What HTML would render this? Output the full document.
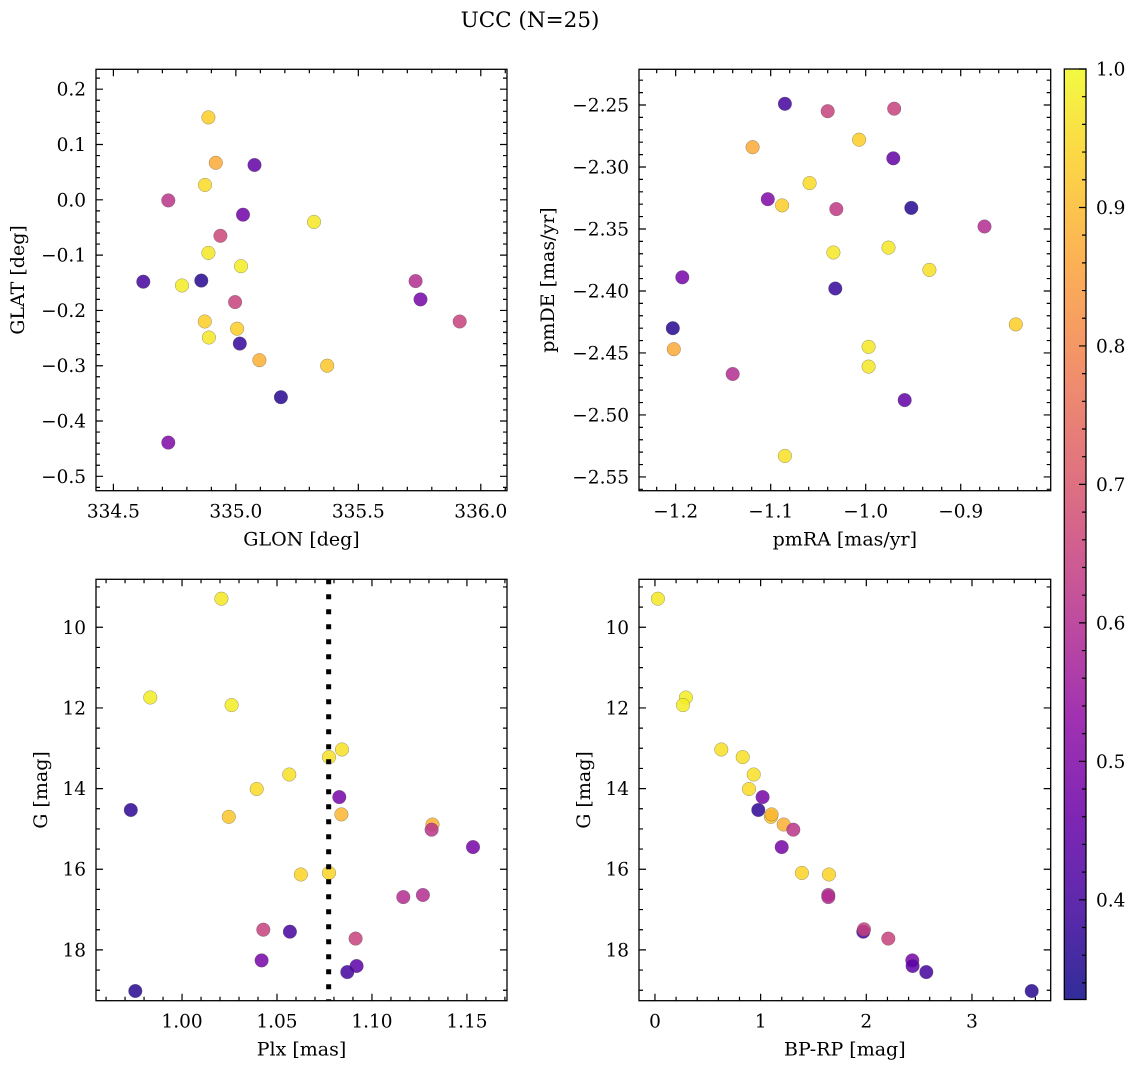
<!DOCTYPE html>
<html><head><meta charset="utf-8">
<style>
html,body{margin:0;padding:0;background:#fff;}
svg{display:block;font-family:"DejaVu Serif","Liberation Serif",serif;}
</style></head>
<body>
<svg id="fig" width="1136" height="1068" viewBox="0 0 1136 1068">
<text x="530" y="27" font-size="21.5" text-anchor="middle">UCC (N=25)</text>
</svg>
<script>
// ---- Panel 1: GLON vs GLAT ----
const glon1 = [334.888,334.918,335.076,334.874,334.724,335.029,335.319,334.937,334.888,335.021,334.622,334.780,334.859,334.997,335.734,335.754,335.914,334.873,335.005,334.890,335.016,335.096,335.373,335.184,334.724];
const glat1 = [0.149,0.067,0.063,0.027,-0.001,-0.027,-0.040,-0.065,-0.096,-0.120,-0.148,-0.155,-0.146,-0.185,-0.147,-0.180,-0.220,-0.220,-0.233,-0.249,-0.260,-0.290,-0.300,-0.357,-0.439];
const prob1 = [0.93,0.87,0.45,0.95,0.62,0.47,0.97,0.66,0.97,0.98,0.40,0.98,0.36,0.65,0.60,0.48,0.65,0.93,0.93,0.97,0.38,0.88,0.92,0.36,0.50];
// ---- Panel 2: pmRA vs pmDE ----
const pmra2 = [-1.085,-1.040,-0.970,-1.007,-1.119,-0.971,-1.059,-1.103,-1.088,-1.031,-0.952,-0.875,-1.034,-0.976,-0.933,-1.193,-1.032,-0.842,-1.203,-1.202,-0.997,-0.997,-1.140,-0.959,-1.085];
const pmde2 = [-2.249,-2.255,-2.253,-2.278,-2.284,-2.293,-2.313,-2.326,-2.331,-2.334,-2.333,-2.348,-2.369,-2.365,-2.383,-2.389,-2.398,-2.427,-2.430,-2.447,-2.445,-2.461,-2.467,-2.488,-2.533];
const prob2 = [0.40,0.65,0.65,0.93,0.87,0.45,0.95,0.50,0.93,0.63,0.36,0.60,0.97,0.97,0.96,0.48,0.38,0.93,0.36,0.87,0.97,0.97,0.60,0.45,0.96];
// ---- Panel 3: Plx vs G ----
const plx3 = [1.0207,0.9833,1.0261,1.0842,1.0774,1.0565,1.0393,1.0828,0.9730,1.0246,1.0839,1.1319,1.1314,1.1532,1.0626,1.0774,1.1165,1.1268,1.0428,1.0568,1.0914,1.0419,1.0919,1.0870,0.9754];
const gmag3 = [9.29,11.74,11.93,13.03,13.22,13.65,14.01,14.21,14.53,14.70,14.64,14.89,15.02,15.45,16.13,16.09,16.69,16.64,17.50,17.55,17.72,18.26,18.40,18.55,19.02];
const prob3 = [0.97,0.98,0.98,0.96,0.96,0.96,0.95,0.48,0.37,0.92,0.89,0.88,0.62,0.48,0.94,0.94,0.60,0.60,0.65,0.40,0.65,0.48,0.44,0.40,0.36];
const plxLine = [1.0772];
// ---- Panel 4: BP-RP vs G ----
const bprp4 = [0.028,0.293,0.265,0.628,0.830,0.934,0.890,1.019,0.978,1.098,1.104,1.218,1.309,1.199,1.391,1.647,1.640,1.640,1.972,1.978,2.208,2.435,2.438,2.568,3.565];
const gmag4 = [9.29,11.74,11.93,13.03,13.22,13.65,14.01,14.21,14.53,14.70,14.64,14.89,15.02,15.45,16.09,16.13,16.64,16.69,17.55,17.49,17.72,18.26,18.40,18.55,19.02];
const prob4 = [0.97,0.98,0.98,0.96,0.96,0.96,0.95,0.48,0.37,0.92,0.89,0.88,0.62,0.48,0.94,0.94,0.60,0.60,0.40,0.65,0.65,0.48,0.44,0.40,0.36];
// ---- Colorbar ----
const cbTicks = [0.4,0.5,0.6,0.7,0.8,0.9,1.0];
const cbMin = 0.328, cbMax = 1.0;

const NS = "http://www.w3.org/2000/svg";
const svg = document.getElementById('fig');
function mk(tag, attrs, parent){
  const e = document.createElementNS(NS, tag);
  for (const k in attrs) e.setAttribute(k, attrs[k]);
  (parent||svg).appendChild(e);
  return e;
}
const plasma = [[13,8,135],[65,4,157],[106,0,168],[143,13,164],[177,42,144],[204,71,120],[225,100,98],[242,132,75],[252,166,54],[252,206,37],[240,249,33]];
function cmap(v){
  let t = (v-cbMin)/(cbMax-cbMin); t=Math.max(0,Math.min(1,t));
  const s = t*10, i = Math.min(9,Math.floor(s)), f = s-i;
  const a = plasma[i], b = plasma[i+1];
  return 'rgb('+a.map((c,k)=>Math.round(c+(b[k]-c)*f)).join(',')+')';
}
function fmt(v, d){ const s = Math.abs(v).toFixed(d); return (v<-1e-9?'\u2212':'')+s; }
const TF = 18.5, AF = 19;

function panel(p){
  const g = mk('g', {});
  
  
  const sx = v => p.x0 + (v-p.xd[0])/(p.xd[1]-p.xd[0])*(p.x1-p.x0);
  const sy = v => p.inv ? p.y0 + (v-p.yd[0])/(p.yd[1]-p.yd[0])*(p.y1-p.y0)
                         : p.y1 - (v-p.yd[0])/(p.yd[1]-p.yd[0])*(p.y1-p.y0);
  for (let i=0;i<p.xs.length;i++){
    const c = mk('circle', {cx:sx(p.xs[i]).toFixed(1), cy:sy(p.ys[i]).toFixed(1), r:6.8, fill:cmap(p.cs[i]), 'fill-opacity':0.85, stroke:'#555', 'stroke-opacity':0.6, 'stroke-width':0.5}, g);
    
    
  }
  if (p.vline){
    const l = mk('line', {x1:sx(p.vline[0]), x2:sx(p.vline[0]), y1:p.y0, y2:p.y1, stroke:'#000', 'stroke-width':5, 'stroke-dasharray':'5 10'}, g);
    
    
  }
  const tk = [];
  const eps = 1e-9;
  let start = Math.ceil((Math.min(...p.xd)-eps)/p.xmin)*p.xmin;
  for (let v=start; v<=Math.max(...p.xd)+eps; v+=p.xmin){
    const maj = Math.abs(Math.round(v/p.xmaj)*p.xmaj - v) < p.xmin*0.1;
    const X = sx(v), L = maj?7:4;
    tk.push(`M${X},${p.y1}v${-L}M${X},${p.y0}v${L}`);
    if (maj){
      const t = mk('text', {x:X, y:p.y1+27, 'font-size':TF, 'text-anchor':'middle'}, g);
      t.textContent = fmt(v, p.xdec);
      
      
    }
  }
  const ylo = Math.min(...p.yd), yhi = Math.max(...p.yd);
  start = Math.ceil((ylo-eps)/p.ymin)*p.ymin;
  for (let v=start; v<=yhi+eps; v+=p.ymin){
    const maj = Math.abs(Math.round(v/p.ymaj)*p.ymaj - v) < p.ymin*0.1;
    const Y = sy(v), L = maj?7:4;
    tk.push(`M${p.x0},${Y}h${L}M${p.x1},${Y}h${-L}`);
    if (maj){
      const t = mk('text', {x:p.x0-10, y:Y+6.5, 'font-size':TF, 'text-anchor':'end'}, g);
      t.textContent = fmt(v, p.ydec);
      
      
    }
  }
  mk('path', {d:tk.join(''), stroke:'#000', 'stroke-width':1.2, fill:'none'}, g);
  const fr = mk('rect', {x:p.x0, y:p.y0, width:p.x1-p.x0, height:p.y1-p.y0, fill:'none', stroke:'#000', 'stroke-width':1.3}, g);
  
  
  const xl = mk('text', {x:(p.x0+p.x1)/2, y:p.y1+55, 'font-size':AF, 'text-anchor':'middle'}, g);
  xl.textContent = p.xlab;
  
  
  const cy = (p.y0+p.y1)/2;
  const yl = mk('text', {x:p.ylx, y:cy, 'font-size':AF, 'text-anchor':'middle', transform:`rotate(-90 ${p.ylx} ${cy})`}, g);
  yl.textContent = p.ylab;
  
  
}

panel({name:'glon-glat-panel', x0:96, x1:507, y0:69.3, y1:490.7, xd:[334.429,336.107], yd:[-0.526,0.236],
  xs:glon1, ys:glat1, cs:prob1, xmaj:0.5, xmin:0.1, xdec:1, ymaj:0.1, ymin:0.02, ydec:1, xlab:'GLON [deg]', ylab:'GLAT [deg]', ylx:24});
panel({name:'pm-panel', x0:639, x1:1050.7, y0:69.3, y1:490.7, xd:[-1.2386,-0.8053], yd:[-2.5611,-2.2212],
  xs:pmra2, ys:pmde2, cs:prob2, xmaj:0.1, xmin:0.02, xdec:1, ymaj:0.05, ymin:0.01, ydec:2, xlab:'pmRA [mas/yr]', ylab:'pmDE [mas/yr]', ylx:554});
panel({name:'plx-g-panel', x0:96, x1:507, y0:579.3, y1:1000.7, xd:[0.9547,1.1711], yd:[8.81,19.26], inv:true,
  xs:plx3, ys:gmag3, cs:prob3, vline:plxLine, xmaj:0.05, xmin:0.01, xdec:2, ymaj:2, ymin:0.5, ydec:0, xlab:'Plx [mas]', ylab:'G [mag]', ylx:47});
panel({name:'cmd-panel', x0:639, x1:1050.7, y0:579.3, y1:1000.7, xd:[-0.151,3.745], yd:[8.81,19.26], inv:true,
  xs:bprp4, ys:gmag4, cs:prob4, xmaj:1, xmin:0.2, xdec:0, ymaj:2, ymin:0.5, ydec:0, xlab:'BP-RP [mag]', ylab:'G [mag]', ylx:590});

(function(){
  const x0=1064.3, x1=1086, y0=69, y1=999.5;
  const g = mk('g', {});
  
  
  const defs = mk('defs', {}, g);
  const lg = mk('linearGradient', {id:'cbg', x1:0, y1:1, x2:0, y2:0}, defs);
  for (let k=0;k<=20;k++){
    const v = cbMin + (cbMax-cbMin)*k/20;
    mk('stop', {offset:(k/20), 'stop-color':cmap(v)}, lg);
  }
  mk('rect', {x:x0, y:y0, width:x1-x0, height:y1-y0, fill:'url(#cbg)', 'fill-opacity':0.85}, g);
  const sy = v => y1 - (v-cbMin)/(cbMax-cbMin)*(y1-y0);
  const d = [];
  for (let v=0.34; v<=1.0001; v+=0.02){
    const maj = Math.abs(Math.round(v*10)/10 - v) < 0.002;
    d.push(`M${x1},${sy(v)}h${maj?-7:-4}`);
  }
  mk('path', {d:d.join(''), stroke:'#000', 'stroke-width':1.2}, g);
  mk('rect', {x:x0, y:y0, width:x1-x0, height:y1-y0, fill:'none', stroke:'#000', 'stroke-width':1.3}, g);
  cbTicks.forEach(v=>{
    const t = mk('text', {x:1096, y:sy(v)+6.5, 'font-size':TF}, g);
    t.textContent = v.toFixed(1);
    
    
  });
})();
</script>
</body></html>
